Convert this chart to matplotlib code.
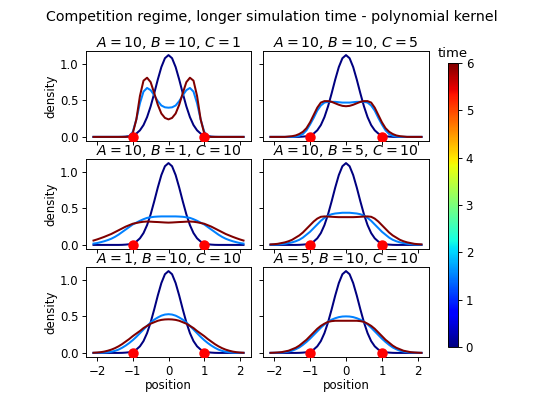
import numpy as np
import matplotlib
matplotlib.use("Agg")
import matplotlib.pyplot as plt
from matplotlib.cm import ScalarMappable
from matplotlib.colors import Normalize

# ---------------- data ----------------
x_min, x_max, n_pts = -2.1, 2.1, 43
titles = ["$A=10$, $B=10$, $C=1$", "$A=10$, $B=10$, $C=5$",
          "$A=10$, $B=1$, $C=10$", "$A=10$, $B=5$, $C=10$",
          "$A=1$, $B=10$, $C=10$", "$A=5$, $B=10$, $C=10$"]
times = [0.0, 1.5, 6.0]
site_x = [-1, 1]
site_y = [0, 0]

init_density = [0, 0, 0, 0, 0, 0, 0, 0, 0.001, 0.004, 0.009, 0.022, 0.046, 0.090, 0.162, 0.271, 0.418, 0.596, 0.785, 0.956, 1.077,
                1.12,
                1.077, 0.956, 0.785, 0.596, 0.418, 0.271, 0.162, 0.090, 0.046, 0.022, 0.009, 0.004, 0.001, 0, 0, 0, 0, 0, 0, 0, 0]

p1_mid = [0, 0, 0, 0, 0, 0, 0, 0, 0, 0, 0.01, 0.07, 0.24, 0.46, 0.62, 0.67, 0.64, 0.57, 0.49, 0.43, 0.405,
          0.40,
          0.405, 0.43, 0.49, 0.57, 0.64, 0.67, 0.62, 0.46, 0.24, 0.07, 0.01, 0, 0, 0, 0, 0, 0, 0, 0, 0, 0]
p1_end = [0, 0, 0, 0, 0, 0, 0, 0, 0, 0, 0.005, 0.05, 0.24, 0.56, 0.77, 0.81, 0.75, 0.60, 0.44, 0.32, 0.26,
          0.24,
          0.26, 0.32, 0.44, 0.60, 0.75, 0.81, 0.77, 0.56, 0.24, 0.05, 0.005, 0, 0, 0, 0, 0, 0, 0, 0, 0, 0]

p2_mid = [0, 0, 0, 0, 0, 0, 0, 0.005, 0.015, 0.04, 0.09, 0.17, 0.26, 0.36, 0.43, 0.47, 0.48, 0.48, 0.48, 0.475, 0.47,
          0.47,
          0.47, 0.475, 0.48, 0.48, 0.48, 0.47, 0.43, 0.36, 0.26, 0.17, 0.09, 0.04, 0.015, 0.005, 0, 0, 0, 0, 0, 0, 0]
p2_end = [0, 0, 0, 0, 0, 0.005, 0.01, 0.02, 0.04, 0.07, 0.12, 0.20, 0.30, 0.40, 0.47, 0.49, 0.49, 0.48, 0.46, 0.44, 0.425,
          0.42,
          0.425, 0.44, 0.46, 0.48, 0.49, 0.49, 0.47, 0.40, 0.30, 0.20, 0.12, 0.07, 0.04, 0.02, 0.01, 0.005, 0, 0, 0, 0, 0]

p3_mid = [0.018, 0.025, 0.037, 0.05, 0.066, 0.085, 0.11, 0.14, 0.175, 0.21, 0.245, 0.28, 0.305, 0.33, 0.352, 0.37, 0.378, 0.385, 0.388, 0.39, 0.39,
          0.39,
          0.39, 0.39, 0.388, 0.385, 0.378, 0.37, 0.352, 0.33, 0.305, 0.28, 0.245, 0.21, 0.175, 0.14, 0.11, 0.085, 0.066, 0.05, 0.037, 0.025, 0.018]
p3_end = [0.06, 0.075, 0.092, 0.11, 0.13, 0.15, 0.175, 0.20, 0.225, 0.25, 0.27, 0.29, 0.30, 0.31, 0.317, 0.32, 0.318, 0.315, 0.313, 0.31, 0.307,
          0.305,
          0.307, 0.31, 0.313, 0.315, 0.318, 0.32, 0.317, 0.31, 0.30, 0.29, 0.27, 0.25, 0.225, 0.20, 0.175, 0.15, 0.13, 0.11, 0.092, 0.075, 0.06]

p4_mid = [0.002, 0.004, 0.006, 0.01, 0.015, 0.025, 0.035, 0.05, 0.07, 0.10, 0.14, 0.18, 0.23, 0.28, 0.33, 0.37, 0.40, 0.42, 0.43, 0.435, 0.44,
          0.44,
          0.44, 0.435, 0.43, 0.42, 0.40, 0.37, 0.33, 0.28, 0.23, 0.18, 0.14, 0.10, 0.07, 0.05, 0.035, 0.025, 0.015, 0.01, 0.006, 0.004, 0.002]
p4_end = [0.007, 0.01, 0.015, 0.025, 0.035, 0.05, 0.07, 0.10, 0.13, 0.17, 0.22, 0.27, 0.32, 0.36, 0.385, 0.39, 0.388, 0.385, 0.382, 0.38, 0.38,
          0.38,
          0.38, 0.38, 0.382, 0.385, 0.388, 0.39, 0.385, 0.36, 0.32, 0.27, 0.22, 0.17, 0.13, 0.10, 0.07, 0.05, 0.035, 0.025, 0.015, 0.01, 0.007]

p5_mid = [0, 0.001, 0.002, 0.004, 0.009, 0.016, 0.028, 0.045, 0.07, 0.10, 0.135, 0.175, 0.22, 0.27, 0.32, 0.37, 0.415, 0.455, 0.485, 0.51, 0.525,
          0.53,
          0.525, 0.51, 0.485, 0.455, 0.415, 0.37, 0.32, 0.27, 0.22, 0.175, 0.135, 0.10, 0.07, 0.045, 0.028, 0.016, 0.009, 0.004, 0.002, 0.001, 0]
p5_end = [0.002, 0.005, 0.01, 0.018, 0.03, 0.045, 0.065, 0.09, 0.12, 0.155, 0.19, 0.23, 0.265, 0.30, 0.34, 0.37, 0.40, 0.42, 0.44, 0.452, 0.458,
          0.46,
          0.458, 0.452, 0.44, 0.42, 0.40, 0.37, 0.34, 0.30, 0.265, 0.23, 0.19, 0.155, 0.12, 0.09, 0.065, 0.045, 0.03, 0.018, 0.01, 0.005, 0.002]

p6_mid = [0, 0.001, 0.002, 0.005, 0.01, 0.018, 0.03, 0.05, 0.075, 0.11, 0.15, 0.195, 0.245, 0.295, 0.345, 0.39, 0.425, 0.455, 0.475, 0.49, 0.498,
          0.50,
          0.498, 0.49, 0.475, 0.455, 0.425, 0.39, 0.345, 0.295, 0.245, 0.195, 0.15, 0.11, 0.075, 0.05, 0.03, 0.018, 0.01, 0.005, 0.002, 0.001, 0]
p6_end = [0.001, 0.003, 0.006, 0.01, 0.02, 0.03, 0.05, 0.07, 0.10, 0.14, 0.18, 0.23, 0.28, 0.33, 0.37, 0.40, 0.425, 0.435, 0.44, 0.44, 0.44,
          0.44,
          0.44, 0.44, 0.44, 0.435, 0.425, 0.40, 0.37, 0.33, 0.28, 0.23, 0.18, 0.14, 0.10, 0.07, 0.05, 0.03, 0.02, 0.01, 0.006, 0.003, 0.001]

mid_curves = [p1_mid, p2_mid, p3_mid, p4_mid, p5_mid, p6_mid]
end_curves = [p1_end, p2_end, p3_end, p4_end, p5_end, p6_end]

# ---------------- figure ----------------
FS = 8.5
plt.rcParams.update({
    "font.size": FS,
    "axes.linewidth": 0.68,
    "xtick.major.width": 0.68, "ytick.major.width": 0.68,
    "xtick.major.size": 3.0, "ytick.major.size": 3.0,
    "xtick.major.pad": 2.5, "ytick.major.pad": 2.5,
    "xtick.labelsize": FS, "ytick.labelsize": FS,
})

fig = plt.figure(figsize=(5.43, 3.96), dpi=100)
W, H = 543.0, 396.0
col_left = [86, 263]
col_width = [165, 166]
row_top = [51, 159, 267]
row_h = 90

xs = np.linspace(x_min, x_max, n_pts)
cmap = plt.get_cmap("jet")
norm = Normalize(vmin=0, vmax=6)

axes = []
first = None
for i in range(6):
    r, c = divmod(i, 2)
    rect = [col_left[c] / W, 1 - (row_top[r] + row_h) / H, col_width[c] / W, row_h / H]
    ax = fig.add_axes(rect, sharex=first, sharey=first)
    if first is None:
        first = ax
    axes.append(ax)
    curves = [init_density, mid_curves[i], end_curves[i]]
    for t, y in zip(times, curves):
        ax.plot(xs, y, color=cmap(norm(t)), lw=1.45)
    ax.plot(site_x, site_y, "o", color="red", ms=6.5, zorder=5)
    ax.set_title(titles[i], fontsize=10.2, pad=2.0)
    ax.set_xticks([-2, -1, 0, 1, 2])
    ax.set_yticks([0.0, 0.5, 1.0])
    if c == 0:
        ax.set_ylabel("density", fontsize=FS, labelpad=2)
    else:
        ax.tick_params(labelleft=False)
    if r == 2:
        ax.set_xlabel("position", fontsize=FS, labelpad=1)
    else:
        ax.tick_params(labelbottom=False)

cax = fig.add_axes([448 / W, 1 - 347 / H, 10 / W, 284 / H])
sm = ScalarMappable(norm=norm, cmap=cmap)
cb = fig.colorbar(sm, cax=cax, ticks=[0, 1, 2, 3, 4, 5, 6])
cb.outline.set_linewidth(0.68)
cax.set_title("time", fontsize=9.5, pad=4)

fig.suptitle("Competition regime, longer simulation time - polynomial kernel", fontsize=10.2, y=0.975)

fig.savefig("out.png", dpi=100)
